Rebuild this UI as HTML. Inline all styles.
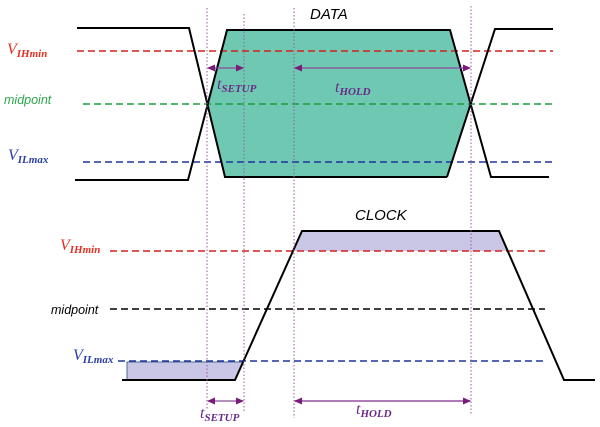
<!DOCTYPE html>
<html><head><style>html,body{margin:0;padding:0;background:#fff;}svg{display:block}</style></head>
<body>
<svg width="600" height="427" viewBox="0 0 600 427" xmlns="http://www.w3.org/2000/svg" font-family="Liberation Sans, sans-serif">
<defs>
<marker id="ah" markerWidth="8" markerHeight="8" refX="7" refY="4" orient="auto-start-reverse" markerUnits="userSpaceOnUse"><path d="M0,0.5 L8,4 L0,7.5z" fill="#7a1a7a"/></marker>
</defs>
<polygon points="227,30 450,30 470,104 447,177 225,177 207,104" fill="#6ec8b2" stroke="#5aa8a0" stroke-width="1"/>
<line x1="77" y1="51" x2="553" y2="51" stroke="#d42020" stroke-width="1.6" stroke-dasharray="7,4"/>
<line x1="83" y1="104" x2="553" y2="104" stroke="#1f9e3f" stroke-width="1.6" stroke-dasharray="7,4"/>
<line x1="83" y1="162" x2="553" y2="162" stroke="#1f35a0" stroke-width="1.6" stroke-dasharray="7,4"/>
<g stroke="#000" stroke-width="2" fill="none">
<polyline points="77,28 189,28 225,177 447,177"/>
<polyline points="75,180 188,180 227,30 450,30 491,177 549,177"/>
<polyline points="447,177 495,29 553,29"/>
</g>
<polygon points="127,362 243,362 235,380 127,380" fill="#c9c6e6" stroke="#4a6a9a" stroke-width="1"/>
<polygon points="302,231 499,231 508,251 293,251" fill="#c9c6e6"/>
<line x1="110" y1="251" x2="545" y2="251" stroke="#d42020" stroke-width="1.6" stroke-dasharray="7,4"/>
<line x1="110" y1="309" x2="545" y2="309" stroke="#000" stroke-width="1.6" stroke-dasharray="7,4"/>
<line x1="118" y1="361" x2="545" y2="361" stroke="#1f35a0" stroke-width="1.6" stroke-dasharray="7,4"/>
<polyline points="122,380 235,380 302,231 499,231 564,380 595,380" stroke="#000" stroke-width="2" fill="none"/>
<g stroke="#9a5a9a" stroke-width="1" stroke-dasharray="1.5,2">
<line x1="207" y1="8" x2="207" y2="410"/>
<line x1="244" y1="14" x2="244" y2="412"/>
<line x1="294" y1="8" x2="294" y2="418"/>
<line x1="471" y1="6" x2="471" y2="415"/>
</g>
<g stroke="#8a4a9a" stroke-width="1.2">
<line x1="208" y1="68" x2="243" y2="68" marker-start="url(#ah)" marker-end="url(#ah)"/>
<line x1="295" y1="68" x2="470" y2="68" marker-start="url(#ah)" marker-end="url(#ah)"/>
<line x1="208" y1="401" x2="243" y2="401" marker-start="url(#ah)" marker-end="url(#ah)"/>
<line x1="295" y1="401" x2="470" y2="401" marker-start="url(#ah)" marker-end="url(#ah)" stroke="#b07ab8" stroke-width="2"/>
</g>
<g font-family="Liberation Serif, serif" font-style="italic">
<text x="217" y="89" fill="#6a2a8a" font-size="16">t<tspan font-size="11" dy="3" font-weight="bold">SETUP</tspan></text>
<text x="335" y="92" fill="#6a2a8a" font-size="16">t<tspan font-size="11" dy="3" font-weight="bold">HOLD</tspan></text>
<text x="200" y="418" fill="#6a2a8a" font-size="16">t<tspan font-size="11" dy="3" font-weight="bold">SETUP</tspan></text>
<text x="356" y="414" fill="#6a2a8a" font-size="16">t<tspan font-size="11" dy="3" font-weight="bold">HOLD</tspan></text>
<text x="7" y="54" fill="#e03020" font-size="16">V<tspan font-size="11" dy="3" font-weight="bold">IHmin</tspan></text>
<text x="8" y="160" fill="#2a3fa6" font-size="16">V<tspan font-size="11" dy="3" font-weight="bold">ILmax</tspan></text>
<text x="60" y="250" fill="#e03020" font-size="16">V<tspan font-size="11" dy="3" font-weight="bold">IHmin</tspan></text>
<text x="73" y="360" fill="#2a3fa6" font-size="16">V<tspan font-size="11" dy="3" font-weight="bold">ILmax</tspan></text>
</g>
<text x="4" y="104" fill="#2aa64a" font-size="12.5" font-style="italic">midpoint</text>
<text x="51" y="314" fill="#000" font-size="12.5" font-style="italic">midpoint</text>
<text x="310" y="19" fill="#000" font-size="15" font-style="italic">DATA</text>
<text x="355" y="220" fill="#000" font-size="15" font-style="italic">CLOCK</text>
</svg>
</body></html>
